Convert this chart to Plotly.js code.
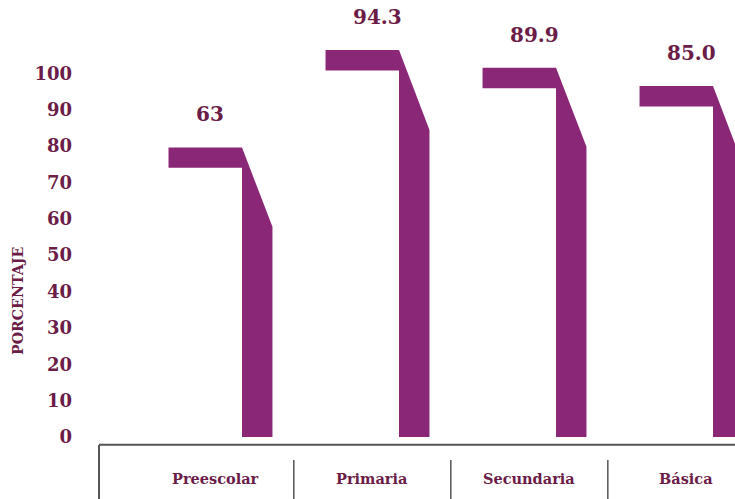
<!DOCTYPE html>
<html>
<head>
<meta charset="utf-8">
<script src="https://cdn.plot.ly/plotly-3.0.1.min.js"></script>
<style>html,body{margin:0;padding:0;background:#fff;}#chart{width:735px;height:499px;}</style>
</head>
<body>
<div id="chart"></div>
<script>
// ---- data ----
const categories = ["Preescolar", "Primaria", "Secundaria", "Básica"];
const values = ["63", "94.3", "89.9", "85.0"];          // printed value labels
const flagTop = [79.6, 106.4, 101.5, 96.5];             // top of the horizontal flag
const slantEnd = [57.8, 84.4, 79.8, 74.5];              // where the slanted top meets the bar's right edge
const yTicks = [0, 10, 20, 30, 40, 50, 60, 70, 80, 90, 100];

// ---- styling ----
const barColor = "#8a2776";
const textColor = "#6b1c47";
const lineColor = "#555555";
const serif = "DejaVu Serif, serif";
const barW = 0.194, flagW = 0.468, flagH = 5.6;

const traces = categories.map((c, i) => {
  const x0 = i, x1 = i + barW, xf = i - flagW;
  return {
    type: "scatter", mode: "lines", fill: "toself",
    fillcolor: barColor, line: {width: 0, color: barColor},
    hoverinfo: "skip", showlegend: false,
    x: [xf, x0, x1, x1, x0, x0, xf, xf],
    y: [flagTop[i], flagTop[i], slantEnd[i], 0, 0, flagTop[i] - flagH, flagTop[i] - flagH, flagTop[i]]
  };
});

const annotations = [];
categories.forEach((c, i) => {
  annotations.push({
    x: i - flagW + 0.16, y: flagTop[i], xref: "x", yref: "y",
    text: values[i], showarrow: false, xanchor: "left", yanchor: "middle", yshift: 33,
    font: {family: serif, size: 20, color: textColor, weight: "bold"}
  });
  annotations.push({
    x: i - 0.17, y: -11.3, xref: "x", yref: "y",
    text: c, showarrow: false, xanchor: "center", yanchor: "middle",
    font: {family: serif, size: 14.5, color: textColor, weight: "bold"}
  });
});
annotations.push({
  x: (19 - 99) / 636, xref: "paper", y: (499 - 301) / 499, yref: "paper", xshift: -11,
  text: "PORCENTAJE", showarrow: false, textangle: -90,
  font: {family: serif, size: 14.2, color: textColor, weight: "bold"}
});

const shapes = [
  {type: "line", xref: "paper", yref: "y", x0: 0, x1: 1, y0: -2.1, y1: -2.1, line: {color: lineColor, width: 2}},
  {type: "line", xref: "paper", yref: "paper", x0: 0, x1: 0, y0: 0, y1: (499 - 445) / 499, line: {color: lineColor, width: 2}}
];
for (let i = 0; i < categories.length - 1; i++) {
  shapes.push({type: "line", xref: "x", yref: "y", x0: i + 0.33, x1: i + 0.33, y0: -6.3, y1: -17.5,
               line: {color: lineColor, width: 1.5}});
}

const layout = {
  width: 735, height: 499,
  margin: {l: 99, r: 0, t: 0, b: 0},
  paper_bgcolor: "#ffffff", plot_bgcolor: "#ffffff",
  showlegend: false,
  xaxis: {range: [-0.9108, 3.140], showgrid: false, zeroline: false, showticklabels: false, showline: false, fixedrange: true},
  yaxis: {range: [-17.05, 120.15], showgrid: false, zeroline: false, showline: false,
          tickvals: yTicks, ticktext: yTicks.map(String), ticks: "", ticklabelstandoff: 26,
          tickfont: {family: serif, size: 18, color: textColor, weight: "bold"}, fixedrange: true},
  annotations: annotations,
  shapes: shapes
};

Plotly.newPlot("chart", traces, layout, {displayModeBar: false, staticPlot: true});
</script>
</body>
</html>
